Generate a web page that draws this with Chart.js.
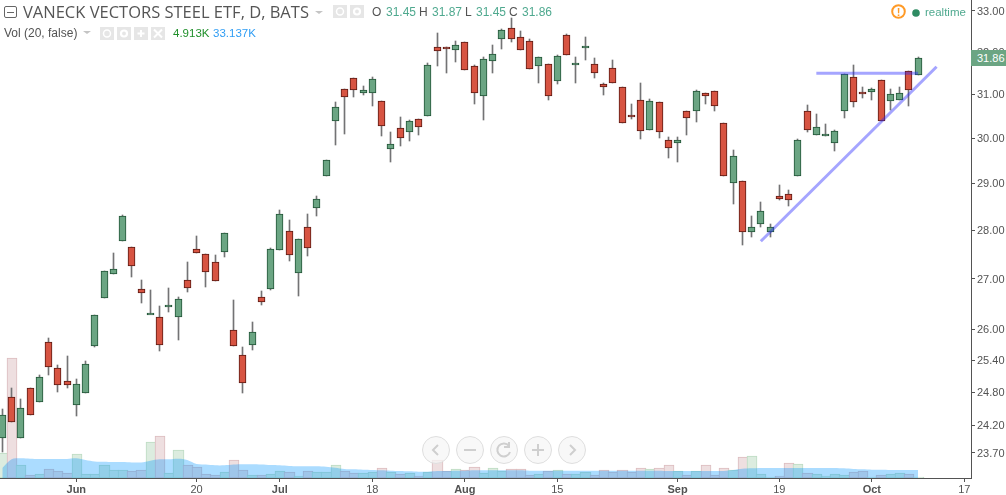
<!DOCTYPE html>
<html>
<head>
<meta charset="utf-8">
<title>VanEck Vectors Steel ETF</title>
<script src="https://cdn.jsdelivr.net/npm/chart.js@4"></script>
<style>
    html, body { margin: 0; padding: 0; background: #fff; overflow: hidden; }
    #wrap { position: relative; width: 1006px; height: 495px; overflow: hidden; }
    #chart { position: absolute; left: 0; top: 0; }
    .t { position: absolute; white-space: nowrap; font-family: "Liberation Sans", Arial, sans-serif; font-size: 12px; line-height: 14px; color: #535353; }
    .title { font-family: "Open Sans", sans-serif; font-size: 16.5px; line-height: 20px; color: #555; }
    .val { color: #4fa98f; }
    .box { position: absolute; width: 14px; height: 13px; background: #e6e6e6; }
    .box svg, .nav svg { display: block; }
    .caret { position: absolute; width: 0; height: 0; border-left: 4px solid transparent; border-right: 4px solid transparent; border-top: 3px solid #c4c4c4; }
    .nav { position: absolute; top: 436px; width: 26px; height: 26px; border: 1px solid #dedede; border-radius: 50%; background: rgba(245,245,245,.75); }
    #tag { position: absolute; left: 971px; top: 50px; width: 35px; height: 16px; background: #6ba583; color: #fff; font-family: "Liberation Sans", Arial, sans-serif; font-size: 11px; line-height: 16px; text-indent: 6px; }
</style>
</head>
<body>
<div id="wrap">
    <canvas id="chart" width="1006" height="495"></canvas>

    <svg style="position:absolute;left:4px;top:6px" width="13" height="12"><rect x="0.5" y="0.5" width="12" height="11" rx="1.5" fill="none" stroke="#666"/><line x1="3" x2="10" y1="6.5" y2="6.5" stroke="#666"/></svg>
    <div class="t title" style="left:23px;top:2px">VANECK VECTORS STEEL ETF, D, BATS</div>
    <div class="caret" style="left:315px;top:11px"></div>
    <div class="box" style="left:333px;top:5px"><svg width="14" height="13"><circle cx="7" cy="6.5" r="3.5" fill="none" stroke="#fff" stroke-width="1.5"/></svg></div>
    <div class="box" style="left:350px;top:5px"><svg width="14" height="13"><circle cx="7" cy="6.5" r="3" fill="none" stroke="#fff" stroke-width="2.2"/></svg></div>
    <div class="t" style="left:372px;top:5px">O</div><div class="t val" style="left:386px;top:5px">31.45</div>
    <div class="t" style="left:419px;top:5px">H</div><div class="t val" style="left:432px;top:5px">31.87</div>
    <div class="t" style="left:465px;top:5px">L</div><div class="t val" style="left:476px;top:5px">31.45</div>
    <div class="t" style="left:509px;top:5px">C</div><div class="t val" style="left:522px;top:5px">31.86</div>

    <div class="t" style="left:4px;top:26px">Vol (20, false)</div>
    <div class="caret" style="left:83px;top:31px"></div>
    <div class="box" style="left:100px;top:27px"><svg width="14" height="13"><circle cx="7" cy="6.5" r="3.5" fill="none" stroke="#fff" stroke-width="1.5"/></svg></div>
    <div class="box" style="left:117px;top:27px"><svg width="14" height="13"><circle cx="7" cy="6.5" r="3" fill="none" stroke="#fff" stroke-width="2.2"/></svg></div>
    <div class="box" style="left:134px;top:27px"><svg width="14" height="13"><path d="M7 3v7M3.5 6.5h7" stroke="#fff" stroke-width="2"/></svg></div>
    <div class="box" style="left:151px;top:27px"><svg width="14" height="13"><path d="M3 2.5l8 8M11 2.5l-8 8" stroke="#fff" stroke-width="2"/></svg></div>
    <div class="t" style="left:173px;top:26px;color:#1f8f2a;font-size:11.5px">4.913K</div>
    <div class="t" style="left:213px;top:26px;color:#2f9df4;font-size:11.5px">33.137K</div>

    <svg style="position:absolute;left:890px;top:3px" width="18" height="18"><circle cx="8.5" cy="8.5" r="6.3" fill="none" stroke="#ff9a26" stroke-width="2"/><text x="8.5" y="12.5" text-anchor="middle" font-family="Liberation Sans" font-size="11" font-weight="bold" fill="#ff9a26">!</text></svg>
    <svg style="position:absolute;left:911px;top:8px" width="10" height="10"><circle cx="5" cy="5" r="3.8" fill="#2e8b62"/></svg>
    <div class="t val" style="left:925px;top:5px;font-size:11.5px">realtime</div>

    <div id="tag">31.86</div>

    <div class="nav" style="left:422px"><svg width="26" height="26"><path d="M15 8l-5 5 5 5" fill="none" stroke="#cfcfcf" stroke-width="2"/></svg></div>
    <div class="nav" style="left:456px"><svg width="26" height="26"><path d="M7 13h12" stroke="#cfcfcf" stroke-width="2"/></svg></div>
    <div class="nav" style="left:490px"><svg width="26" height="26"><path d="M18 9a6.5 6.5 0 1 0 1 6M18 5v5h-5" fill="none" stroke="#cfcfcf" stroke-width="2"/></svg></div>
    <div class="nav" style="left:524px"><svg width="26" height="26"><path d="M13 7v12M7 13h12" stroke="#cfcfcf" stroke-width="2"/></svg></div>
    <div class="nav" style="left:558px"><svg width="26" height="26"><path d="M11 8l5 5-5 5" fill="none" stroke="#cfcfcf" stroke-width="2"/></svg></div>
</div>

<script>
// daily bars, index 0 = 19 May
const opens = [23.97,24.72,23.96,24.89,24.63,25.76,25.26,25.02,24.57,24.78,25.68,26.62,27.09,27.77,27.64,26.80,26.30,26.23,26.43,26.23,
    26.97,27.60,27.50,27.35,27.54,25.99,25.51,25.70,26.64,26.80,27.58,27.99,27.11,28.06,28.46,29.15,30.39,31.11,31.37,31.02,
    31.02,30.84,29.75,30.22,30.13,30.42,30.49,32.11,32.11,32.04,32.23,31.65,30.95,31.77,32.30,32.57,32.35,32.25,31.65,31.70,
    31.30,32.40,31.70,32.11,31.70,31.23,31.61,31.16,30.52,30.86,30.19,30.81,29.95,29.89,30.61,30.61,31.02,31.07,30.33,29.00,
    29.04,27.97,28.12,27.97,28.72,28.76,29.17,30.61,30.06,30.04,29.88,30.61,31.40,31.06,31.05,31.32,30.84,30.86,31.54,31.45];
const highs = [24.49,24.89,24.67,24.89,25.12,25.82,25.31,25.48,25.04,25.38,26.27,27.15,27.52,28.32,27.64,26.97,26.77,26.45,26.81,26.63,
    27.34,27.88,27.50,27.48,27.95,26.57,25.65,26.14,26.75,27.62,28.42,28.21,27.81,28.34,28.72,29.52,30.82,31.11,31.37,31.19,
    31.40,30.84,30.13,30.47,30.41,30.42,31.73,32.45,32.11,32.26,32.23,31.68,31.87,32.16,32.55,32.82,32.50,32.31,31.87,31.70,
    31.92,32.43,31.87,32.36,31.85,31.25,31.80,31.16,30.77,31.26,30.89,30.81,30.02,30.02,30.61,31.10,31.02,31.07,30.33,29.73,
    29.04,28.30,28.60,28.13,28.96,28.85,29.97,30.75,30.54,30.31,30.19,31.47,31.68,31.16,31.14,31.32,31.12,31.16,31.54,31.87];
const lows = [23.71,24.25,23.96,24.39,24.63,25.12,24.81,24.88,24.37,24.78,25.66,26.62,27.09,27.77,27.04,26.52,26.30,25.58,26.34,25.79,
    26.74,27.52,26.84,26.95,27.45,25.67,24.79,25.60,26.47,26.78,27.58,27.37,26.66,27.47,28.30,29.15,29.84,30.10,30.93,30.99,
    30.73,30.05,29.47,29.83,29.94,30.07,30.49,31.67,31.50,31.76,31.56,30.78,30.41,31.50,32.07,32.24,32.04,31.58,31.27,30.87,
    31.24,31.92,31.27,31.81,31.39,30.99,31.25,30.35,30.44,29.98,30.19,30.01,29.56,29.47,30.07,30.37,30.77,30.62,29.15,28.56,
    27.69,27.86,28.07,27.86,28.64,28.52,29.17,30.13,30.06,30.04,29.71,30.45,30.70,30.91,30.87,30.38,30.63,30.86,30.72,31.45];
const closes = [24.39,24.25,24.52,24.39,25.08,25.28,24.93,24.93,24.96,25.34,26.27,27.15,27.19,28.29,27.25,26.72,26.31,25.70,26.47,26.60,
    26.82,27.52,27.13,26.95,27.95,25.67,24.98,25.94,26.54,27.60,28.35,27.48,27.81,27.62,28.67,29.52,30.70,30.93,31.09,31.09,
    31.35,30.26,29.86,29.99,30.38,30.24,31.68,32.01,32.06,32.16,31.56,31.02,31.82,31.94,32.52,32.30,32.04,31.58,31.87,30.95,
    31.89,31.92,31.74,32.15,31.49,31.16,31.25,30.35,30.49,30.15,30.84,30.13,29.77,29.95,30.45,31.07,30.95,30.72,29.15,29.61,
    27.97,28.06,28.40,28.06,28.67,28.63,29.95,30.19,30.24,30.10,30.15,31.47,30.81,31.04,31.11,30.38,31.00,31.02,31.09,31.86];
// volume in thousands, and its 20 day average
const volumes = [102.5,494,53,12.3,16.4,37,28.7,20.5,98.4,16.4,16.4,53.3,32.8,32.8,28.7,32.8,147.6,172,20.5,115,
    53.3,45,16.4,12.3,24.6,73.8,32.8,12.3,12.3,16.4,28.7,24.6,8.2,28.7,24.6,24.6,53.3,28.7,20.5,20.5,
    24.6,41,24.6,16.4,20.5,8.2,24.6,73.8,28.7,37,32.8,45,20.5,41,28.7,37,37,12.3,16.4,28.7,
    32.8,16.4,16.4,24.6,12.3,32.8,24.6,32.8,24.6,41,37,41,53.3,28.7,12.3,28.7,53.3,12.3,41,32.8,
    86,90,16.4,4.1,8.2,61.5,57.4,20.5,16.4,8.2,16.4,12.3,24.6,28.7,4.1,12.3,16.4,20.5,16.4,4.913];
const volumeAvg = [41,76.5,80.6,79,78,78,78,78,80.6,74,68,67,65.6,65.6,64,64,71,76.5,76.5,79,
    74,57,55,52,52,55,56,56,55,53,52,49,48,48,48,46.5,42.4,37,35.5,34,
    33,31.4,30,28.7,27.3,26,26,28.7,28.7,30,30,31.4,31.4,31.4,31.4,31.4,31.4,30,30,30,
    30,30,30,30,30,30,30,30,30,30,30,30,28.7,28.7,28.7,28.7,28.7,28.7,28.7,33,
    38,39.6,41,41,41,41,41,41,41,41,41,39.6,37,35.5,34,34,33,33,33,33.137];

// x axis labels sit on these bar indexes
const xTickIndex = [8, 21, 30, 40, 50, 60, 73, 84, 94, 104];
const xTickLabels = ['Jun', '20', 'Jul', '18', 'Aug', '15', 'Sep', '19', 'Oct', '17'];
const monthLabels = ['Jun', 'Jul', 'Aug', 'Sep', 'Oct'];
const yTickValues = [33, 32, 31, 30, 29, 28, 27, 26, 25.4, 24.8, 24.2, 23.7];

// the two drawn lines
const trendLine = [{ x: 82, y: 27.77 }, { x: 101, y: 31.645 }];
const levelLine = [{ x: 88, y: 31.49 }, { x: 99, y: 31.49 }];

const upFill = '#6ba583', upEdge = '#225437';
const downFill = '#d75442', downEdge = '#5b1a13';
const isUp = closes.map((c, i) => c >= opens[i]);

// snap the bars to whole pixels so the borders stay crisp like the original
const snapBars = {
    id: 'snapBars',
    beforeDatasetsDraw(chart) {
        chart.getSortedVisibleDatasetMetas().forEach(meta => {
            if (meta.type !== 'bar') return;
            const kind = chart.data.datasets[meta.index].kind;
            meta.data.forEach(el => {
                const top = Math.round(Math.min(el.y, el.base));
                let bottom = Math.round(Math.max(el.y, el.base));
                if (kind === 'volume') {
                    const left = Math.round(el.x - 4.625), right = Math.round(el.x + 4.625);
                    el.x = (left + right + 1) / 2;
                    el.width = right - left + 1;
                } else {
                    el.x = Math.floor(el.x) + 0.5;
                    if (kind === 'body' && bottom - top < 2) bottom = top + 2;
                }
                el.y = top;
                el.base = bottom;
            });
        });
    }
};

new Chart(document.getElementById('chart'), {
    data: {
        datasets: [
            {
                type: 'line', order: 0, yAxisID: 'y', data: trendLine,
                borderColor: 'rgba(40,40,255,.42)', borderWidth: 3, pointRadius: 0, borderCapStyle: 'butt'
            },
            {
                type: 'line', order: 0, yAxisID: 'y', data: levelLine,
                borderColor: 'rgba(40,40,255,.42)', borderWidth: 3, pointRadius: 0, borderCapStyle: 'butt'
            },
            {
                type: 'bar', kind: 'body', order: 1, yAxisID: 'y', grouped: false, barThickness: 7, borderSkipped: false, borderWidth: 1,
                data: opens.map((o, i) => ({ x: i, y: [o, closes[i]] })),
                backgroundColor: isUp.map(u => u ? upFill : downFill),
                borderColor: isUp.map(u => u ? upEdge : downEdge)
            },
            {
                type: 'bar', kind: 'wick', order: 2, yAxisID: 'y', grouped: false, barThickness: 1, borderWidth: 0,
                data: lows.map((l, i) => ({ x: i, y: [l, highs[i]] })),
                backgroundColor: '#737375'
            },
            {
                type: 'line', order: 3, yAxisID: 'vol',
                data: volumeAvg.map((v, i) => ({ x: i, y: v })),
                borderWidth: 0, pointRadius: 0, tension: 0.3, fill: 'origin',
                backgroundColor: 'rgba(0,150,255,.33)'
            },
            {
                type: 'bar', kind: 'volume', order: 4, yAxisID: 'vol', grouped: false, barThickness: 9.25, borderSkipped: false, borderWidth: 1,
                data: volumes.map((v, i) => ({ x: i, y: v })),
                backgroundColor: isUp.map(u => u ? '#dcecdf' : '#eedfe0'),
                borderColor: isUp.map(u => u ? '#bedcc3' : '#dcbcbf')
            }
        ]
    },
    options: {
        responsive: false,
        animation: false,
        events: [],
        layout: { padding: 0 },
        plugins: { legend: { display: false }, tooltip: { enabled: false } },
        scales: {
            x: {
                type: 'linear',
                offset: false,
                min: -0.249,
                max: 104.72,
                grid: { offset: false, drawOnChartArea: false, drawTicks: true, tickLength: 4, tickColor: '#535353' },
                border: { display: true, color: '#535353' },
                afterBuildTicks: axis => { axis.ticks = xTickIndex.map(v => ({ value: v })); },
                afterFit: axis => { axis.height = 17; axis.paddingLeft = 0; axis.paddingRight = 0; },
                ticks: {
                    autoSkip: false, maxRotation: 0, padding: 1, color: '#535353',
                    font: ctx => ({
                        family: '"Liberation Sans", Arial, sans-serif', size: 11,
                        weight: monthLabels.includes(xTickLabels[ctx.index]) ? 'bold' : 'normal'
                    }),
                    callback: (v, i) => xTickLabels[i]
                }
            },
            y: {
                type: 'logarithmic',
                position: 'right',
                min: 23.26,
                max: 33.265,
                grid: { drawOnChartArea: false, drawTicks: true, tickLength: 4, tickColor: '#535353' },
                border: { display: true, color: '#535353' },
                afterBuildTicks: axis => { axis.ticks = yTickValues.map(v => ({ value: v })); },
                afterFit: axis => { axis.width = 35; axis.paddingTop = 0; axis.paddingBottom = 0; },
                ticks: {
                    autoSkip: false, padding: 2, labelOffset: 1, color: '#535353',
                    font: { family: '"Liberation Sans", Arial, sans-serif', size: 11 },
                    callback: v => Number(v).toFixed(2)
                }
            },
            vol: { type: 'linear', display: false, min: 0, max: 1960 }
        }
    },
    plugins: [snapBars]
});
</script>
</body>
</html>
